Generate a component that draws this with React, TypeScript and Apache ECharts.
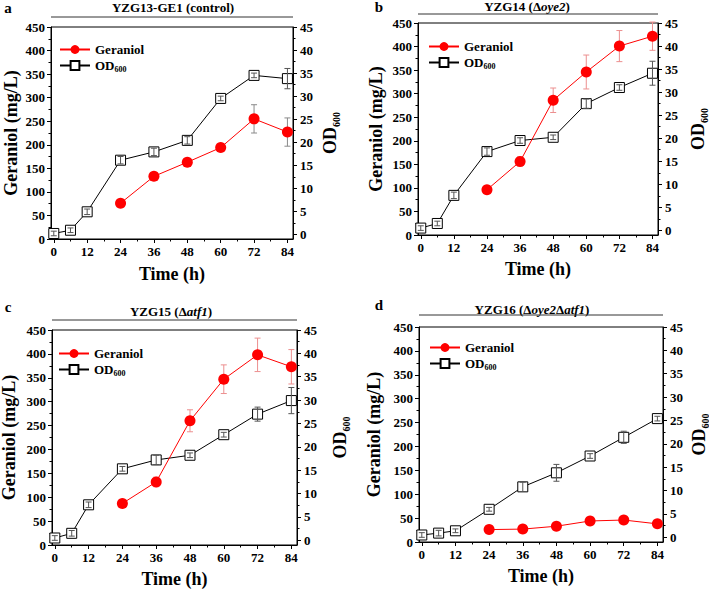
import React, { useEffect, useRef } from "react";
import * as echarts from "echarts";

// ---- data ----
const hours = [0, 6, 12, 24, 36, 48, 60, 72, 84];
const geraniolHours = [24, 36, 48, 60, 72, 84];
const xTickValues = [0, 12, 24, 36, 48, 60, 72, 84];
const xMinorTickValues = [6, 18, 30, 42, 54, 66, 78];
const odTickValues = [0, 5, 10, 15, 20, 25, 30, 35, 40, 45];
const odMinorTickValues = [2.5, 7.5, 12.5, 17.5, 22.5, 27.5, 32.5, 37.5, 42.5];

const geraniolA = [76, 133, 163, 194, 255, 227];
const geraniolErrA = [3, 4, 4, 6, 30, 30];
const odA = [0.2, 0.9, 4.9, 16.1, 17.9, 20.4, 29.5, 34.5, 33.8];
const odErrA = [0.5, 0.5, 0.6, 0.8, 0.8, 0.8, 0.5, 0.5, 2.2];

const geraniolB = [96, 156, 286, 346, 401, 422];
const geraniolErrB = [3, 10, 26, 36, 33, 30];
const odB = [0.5, 1.5, 7.6, 17.1, 19.5, 20.2, 27.5, 31.0, 34.1];
const odErrB = [0.5, 0.5, 0.7, 0.8, 0.6, 0.5, 1.0, 0.6, 2.6];

const geraniolC = [87, 132, 260, 347, 398, 373];
const geraniolErrC = [3, 10, 23, 30, 35, 36];
const odC = [0.5, 1.5, 7.6, 15.3, 17.2, 18.2, 22.6, 27.0, 29.9];
const odErrC = [0.5, 0.6, 0.6, 0.5, 1.0, 0.5, 0.5, 1.5, 2.8];

const geraniolD = [26, 27, 33, 44, 46, 38];
const geraniolErrD = [2, 2, 2, 2, 2, 2];
const odD = [0.5, 0.9, 1.4, 6.0, 10.8, 13.8, 17.4, 21.4, 25.4];
const odErrD = [0.5, 0.6, 0.4, 0.4, 1.0, 1.8, 0.5, 1.3, 0.5];

const FONT = "'Liberation Serif', 'Times New Roman', Times, serif";

const panels = [
  {
    letter: "a",
    title: "{n|YZG13-GE1 (control)}",
    grid: { left: 51, top: 27, width: 242, height: 212 },
    titleX: 173, titleY: 7, lineY: 17, letterX: 8, letterY: 8,
    legendLeft: 54, legendTop: 38, yNameGap: 31, rNameGap: 26, xNameGap: 26,
    geraniol: geraniolA, gErr: geraniolErrA, od: odA, odErr: odErrA, gErrColor: "#8a8a8a",
  },
  {
    letter: "b",
    title: "{n|YZG14 (Δ}{i|oye2}{n|)}",
    grid: { left: 418, top: 23, width: 240, height: 212 },
    titleX: 527, titleY: 6, lineY: 14, letterX: 379, letterY: 7,
    legendLeft: 423, legendTop: 35, yNameGap: 33, rNameGap: 29, xNameGap: 25,
    geraniol: geraniolB, gErr: geraniolErrB, od: odB, odErr: odErrB, gErrColor: "#ec8f8f",
  },
  {
    letter: "c",
    title: "{n|YZG15 (Δ}{i|atf1}{n|)}",
    grid: { left: 52, top: 330, width: 245, height: 215 },
    titleX: 171, titleY: 311, lineY: 320, letterX: 8, letterY: 307,
    legendLeft: 53, legendTop: 342, yNameGap: 34, rNameGap: 32, xNameGap: 25,
    geraniol: geraniolC, gErr: geraniolErrC, od: odC, odErr: odErrC, gErrColor: "#ec8f8f",
  },
  {
    letter: "d",
    title: "{n|YZG16 (Δ}{i|oye2}{n|Δ}{i|atf1}{n|)}",
    grid: { left: 419, top: 327, width: 244, height: 215 },
    titleX: 532, titleY: 309, lineY: 315, letterX: 379, letterY: 305,
    legendLeft: 424, legendTop: 336, yNameGap: 36, rNameGap: 25, xNameGap: 25,
    geraniol: geraniolD, gErr: geraniolErrD, od: odD, odErr: odErrD, gErrColor: "#ec8f8f",
  },
];

const labelStyle = { fontFamily: FONT, fontWeight: "bold" as const, fontSize: 13, color: "#000" };
const nameStyle = { fontFamily: FONT, fontWeight: "bold" as const, fontSize: 18, color: "#000" };

function errorRender(color: string) {
  return (params: any, api: any) => {
    const x = api.value(0);
    const y = api.value(1);
    const e = api.value(2);
    const top = api.coord([x, y + e]);
    const bot = api.coord([x, y - e]);
    const w = 3;
    const st = { stroke: color, lineWidth: 1 };
    return {
      type: "group",
      children: [
        { type: "line", shape: { x1: top[0], y1: top[1], x2: bot[0], y2: bot[1] }, style: st },
        { type: "line", shape: { x1: top[0] - w, y1: top[1], x2: top[0] + w, y2: top[1] }, style: st },
        { type: "line", shape: { x1: bot[0] - w, y1: bot[1], x2: bot[0] + w, y2: bot[1] }, style: st },
      ],
    };
  };
}

function buildOption() {
  const grid: any[] = [];
  const xAxis: any[] = [];
  const yAxis: any[] = [];
  const series: any[] = [];
  const legend: any[] = [];
  const graphic: any[] = [];

  panels.forEach((p, i) => {
    grid.push({
      ...p.grid,
      containLabel: false,
      outerBoundsMode: "none",
      show: true,
      borderColor: "#000",
      borderWidth: 1,
      backgroundColor: "transparent",
    });
    const xi = 2 * i;
    const yi = 3 * i;
    xAxis.push({
      type: "value",
      gridIndex: i,
      position: "bottom",
      min: -1,
      max: 86,
      name: "Time (h)",
      nameLocation: "middle",
      nameGap: p.xNameGap,
      nameTextStyle: nameStyle,
      axisLine: { show: true, onZero: false, lineStyle: { color: "#000", width: 1 } },
      axisTick: { show: true, inside: false, length: 4, customValues: xTickValues, lineStyle: { color: "#000" } },
      axisLabel: { ...labelStyle, margin: 6, customValues: xTickValues },
      splitLine: { show: false },
    });
    xAxis.push({
      type: "value",
      gridIndex: i,
      position: "bottom",
      min: -1,
      max: 86,
      axisLine: { show: false, onZero: false },
      axisTick: { show: true, inside: false, length: 2.5, customValues: xMinorTickValues, lineStyle: { color: "#000" } },
      axisLabel: { show: false },
      splitLine: { show: false },
    });
    yAxis.push({
      type: "value",
      gridIndex: i,
      position: "left",
      min: 0,
      max: 450,
      interval: 50,
      name: "Geraniol (mg/L)",
      nameLocation: "middle",
      nameGap: p.yNameGap,
      nameRotate: 90,
      nameTextStyle: nameStyle,
      axisLine: { show: true, onZero: false, lineStyle: { color: "#000", width: 1 } },
      axisTick: { show: true, inside: false, length: 4, lineStyle: { color: "#000" } },
      minorTick: { show: true, splitNumber: 2, length: 2.5, lineStyle: { color: "#000" } },
      axisLabel: { ...labelStyle, margin: 6 },
      splitLine: { show: false },
      minorSplitLine: { show: false },
    });
    yAxis.push({
      type: "value",
      gridIndex: i,
      position: "right",
      min: -1,
      max: 45,
      name: "{o|OD}{s|600}",
      nameLocation: "middle",
      nameGap: p.rNameGap,
      nameRotate: 90,
      nameTextStyle: {
        ...nameStyle,
        rich: {
          o: { fontFamily: FONT, fontWeight: "bold", fontSize: 18, lineHeight: 22, verticalAlign: "middle", color: "#000" },
          s: { fontFamily: FONT, fontWeight: "bold", fontSize: 10, lineHeight: 10, verticalAlign: "bottom", color: "#000" },
        },
      },
      axisLine: { show: true, onZero: false, lineStyle: { color: "#000", width: 1 } },
      axisTick: { show: true, inside: false, length: 4, customValues: odTickValues, lineStyle: { color: "#000" } },
      axisLabel: { ...labelStyle, margin: 7, customValues: odTickValues },
      splitLine: { show: false },
    });
    yAxis.push({
      type: "value",
      gridIndex: i,
      position: "right",
      min: -1,
      max: 45,
      axisLine: { show: false, onZero: false },
      axisTick: { show: true, inside: false, length: 2.5, customValues: odMinorTickValues, lineStyle: { color: "#000" } },
      axisLabel: { show: false },
      splitLine: { show: false },
    });

    series.push({
      type: "line",
      name: "OD600",
      xAxisIndex: xi,
      yAxisIndex: yi + 1,
      data: hours.map((h, k) => [h, p.od[k]]),
      symbol: "rect",
      symbolSize: 10,
      lineStyle: { color: "#000", width: 1 },
      itemStyle: { color: "#fff", borderColor: "#000", borderWidth: 1 },
      z: 2,
    });
    series.push({
      type: "custom",
      name: "OD600 error",
      xAxisIndex: xi,
      yAxisIndex: yi + 1,
      data: hours.map((h, k) => [h, p.od[k], p.odErr[k]]),
      encode: { x: 0, y: 1 },
      renderItem: errorRender("#555"),
      z: 3,
    });
    series.push({
      type: "custom",
      name: "Geraniol error",
      xAxisIndex: xi,
      yAxisIndex: yi,
      data: geraniolHours.map((h, k) => [h, p.geraniol[k], p.gErr[k]]),
      encode: { x: 0, y: 1 },
      renderItem: errorRender(p.gErrColor),
      z: 3,
    });
    series.push({
      type: "line",
      name: "Geraniol",
      xAxisIndex: xi,
      yAxisIndex: yi,
      data: geraniolHours.map((h, k) => [h, p.geraniol[k]]),
      symbol: "circle",
      symbolSize: 11,
      lineStyle: { color: "#ff0000", width: 1 },
      itemStyle: { color: "#ff0000", borderWidth: 0 },
      z: 4,
    });

    legend.push({
      data: ["Geraniol", "OD600"],
      left: p.legendLeft,
      top: p.legendTop,
      orient: "vertical",
      itemWidth: 30,
      itemHeight: 11,
      itemGap: 3,
      selectedMode: false,
      formatter: (name: string) => (name === "OD600" ? "{b|OD}{s|600}" : "{b|Geraniol}"),
      textStyle: {
        fontFamily: FONT,
        fontWeight: "bold",
        fontSize: 13,
        color: "#000",
        rich: {
          b: { fontFamily: FONT, fontWeight: "bold", fontSize: 13, lineHeight: 16, verticalAlign: "middle", color: "#000" },
          s: { fontFamily: FONT, fontWeight: "bold", fontSize: 8, lineHeight: 8, verticalAlign: "bottom", color: "#000" },
        },
      },
    });

    graphic.push({
      type: "text",
      x: p.titleX,
      y: p.titleY,
      style: {
        text: p.title,
        textAlign: "center",
        textVerticalAlign: "middle",
        align: "center",
        verticalAlign: "middle",
        rich: {
          n: { fontFamily: FONT, fontWeight: "bold", fontSize: 13, fill: "#000", color: "#000" },
          i: { fontFamily: FONT, fontWeight: "bold", fontStyle: "italic", fontSize: 13, fill: "#000", color: "#000" },
        },
      },
    });
    graphic.push({
      type: "line",
      shape: { x1: p.grid.left, y1: p.lineY, x2: p.grid.left + p.grid.width, y2: p.lineY },
      style: { stroke: "#333", lineWidth: 1 },
    });
    graphic.push({
      type: "text",
      x: p.letterX,
      y: p.letterY,
      style: {
        text: p.letter,
        textAlign: "center",
        textVerticalAlign: "middle",
        align: "center",
        verticalAlign: "middle",
        fontFamily: FONT,
        fontWeight: "bold",
        fontSize: 15,
        fill: "#000",
      },
    });
  });

  return {
    animation: false,
    backgroundColor: "#fff",
    textStyle: { fontFamily: FONT },
    grid,
    xAxis,
    yAxis,
    series,
    legend,
    graphic,
  };
}

export default function App() {
  const ref = useRef<HTMLDivElement>(null);
  useEffect(() => {
    if (!ref.current) return;
    const chart = echarts.init(ref.current, null, { renderer: "svg" });
    chart.setOption(buildOption() as any);
    return () => chart.dispose();
  }, []);
  return <div ref={ref} style={{ position: "absolute", left: 0, top: 0, width: 709, height: 590 }} />;
}
